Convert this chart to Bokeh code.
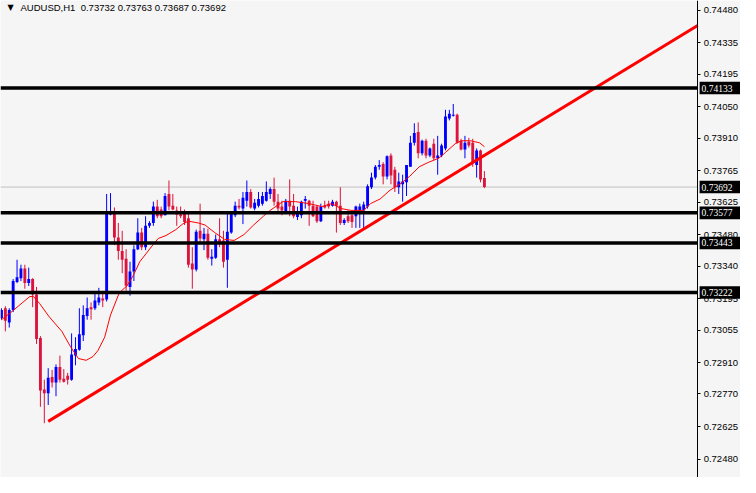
from bokeh.plotting import figure
from bokeh.models import (Range1d, Label, FixedTicker, NumeralTickFormatter, ColumnDataSource,
                          LinearAxis)
from bokeh.embed import file_html
from bokeh.resources import INLINE

symbol = "AUDUSD,H1"

opens = [0.73109, 0.73152, 0.73088, 0.73144, 0.73269, 0.73286, 0.73329, 0.73264, 0.73282, 0.73213,
         0.73019, 0.72790, 0.72773, 0.72846, 0.72821, 0.72890, 0.72838, 0.72851, 0.72834, 0.72941,
         0.72967, 0.73032, 0.73118, 0.73157, 0.73152, 0.73178, 0.73195, 0.73191, 0.73570, 0.73579,
         0.73467, 0.73407, 0.73372, 0.73247, 0.73316, 0.73415, 0.73489, 0.73424, 0.73519, 0.73532,
         0.73605, 0.73592, 0.73566, 0.73661, 0.73609, 0.73588, 0.73570, 0.73579, 0.73553, 0.73351,
         0.73325, 0.73497, 0.73459, 0.73484, 0.73372, 0.73377, 0.73459, 0.73454, 0.73368, 0.73489,
         0.73566, 0.73609, 0.73596, 0.73631, 0.73670, 0.73596, 0.73609, 0.73618, 0.73631, 0.73661,
         0.73683, 0.73627, 0.73605, 0.73583, 0.73631, 0.73609, 0.73558, 0.73566, 0.73631, 0.73631,
         0.73609, 0.73605, 0.73540, 0.73609, 0.73618, 0.73609, 0.73627, 0.73609, 0.73532, 0.73562,
         0.73566, 0.73562, 0.73588, 0.73588, 0.73605, 0.73691, 0.73734, 0.73782, 0.73795, 0.73739,
         0.73833, 0.73769, 0.73691, 0.73704, 0.73713, 0.73782, 0.73889, 0.73937, 0.73842, 0.73898,
         0.73833, 0.73885, 0.73820, 0.73833, 0.73864, 0.73997, 0.74010, 0.74014, 0.73898, 0.73859,
         0.73894, 0.73889, 0.73790, 0.73855, 0.73732]
highs = [0.73152, 0.73161, 0.73152, 0.73282, 0.73368, 0.73346, 0.73346, 0.73333, 0.73286, 0.73247,
         0.73028, 0.72834, 0.72885, 0.72877, 0.72902, 0.72941, 0.72881, 0.72864, 0.73040, 0.73023,
         0.73152, 0.73165, 0.73200, 0.73178, 0.73221, 0.73243, 0.73221, 0.73661, 0.73665, 0.73601,
         0.73532, 0.73497, 0.73415, 0.73359, 0.73433, 0.73553, 0.73510, 0.73562, 0.73540, 0.73627,
         0.73635, 0.73605, 0.73665, 0.73721, 0.73661, 0.73605, 0.73605, 0.73592, 0.73575, 0.73424,
         0.73502, 0.73618, 0.73510, 0.73506, 0.73415, 0.73480, 0.73553, 0.73497, 0.73575, 0.73583,
         0.73627, 0.73639, 0.73670, 0.73721, 0.73683, 0.73639, 0.73670, 0.73670, 0.73717, 0.73691,
         0.73734, 0.73661, 0.73631, 0.73639, 0.73726, 0.73661, 0.73605, 0.73631, 0.73652, 0.73635,
         0.73631, 0.73609, 0.73618, 0.73631, 0.73631, 0.73635, 0.73631, 0.73691, 0.73553, 0.73588,
         0.73588, 0.73609, 0.73618, 0.73627, 0.73704, 0.73756, 0.73790, 0.73812, 0.73803, 0.73833,
         0.73842, 0.73782, 0.73756, 0.73747, 0.73790, 0.73920, 0.73976, 0.73980, 0.73903, 0.73907,
         0.73868, 0.73907, 0.73920, 0.73885, 0.74036, 0.74036, 0.74062, 0.74019, 0.73907, 0.73920,
         0.73911, 0.73907, 0.73864, 0.73859, 0.73763]
lows = [0.73101, 0.73049, 0.73066, 0.73135, 0.73264, 0.73273, 0.73239, 0.73251, 0.73157, 0.72993,
        0.72713, 0.72640, 0.72721, 0.72799, 0.72760, 0.72821, 0.72821, 0.72812, 0.72829, 0.72898,
        0.72963, 0.73006, 0.73101, 0.73101, 0.73144, 0.73165, 0.73157, 0.73182, 0.73566, 0.73433,
        0.73368, 0.73308, 0.73230, 0.73208, 0.73273, 0.73411, 0.73411, 0.73411, 0.73510, 0.73519,
        0.73553, 0.73553, 0.73566, 0.73588, 0.73588, 0.73519, 0.73553, 0.73523, 0.73333, 0.73239,
        0.73316, 0.73446, 0.73411, 0.73368, 0.73342, 0.73372, 0.73424, 0.73333, 0.73243, 0.73484,
        0.73558, 0.73592, 0.73527, 0.73605, 0.73596, 0.73588, 0.73601, 0.73609, 0.73627, 0.73639,
        0.73609, 0.73583, 0.73566, 0.73575, 0.73562, 0.73553, 0.73545, 0.73553, 0.73596, 0.73519,
        0.73558, 0.73532, 0.73536, 0.73596, 0.73596, 0.73605, 0.73489, 0.73523, 0.73523, 0.73532,
        0.73510, 0.73510, 0.73510, 0.73510, 0.73596, 0.73683, 0.73726, 0.73769, 0.73704, 0.73726,
        0.73704, 0.73670, 0.73661, 0.73627, 0.73652, 0.73782, 0.73877, 0.73820, 0.73833, 0.73820,
        0.73825, 0.73812, 0.73747, 0.73825, 0.73855, 0.73989, 0.74006, 0.73885, 0.73855, 0.73820,
        0.73868, 0.73782, 0.73734, 0.73713, 0.73687]
closes = [0.73144, 0.73096, 0.73144, 0.73273, 0.73290, 0.73329, 0.73264, 0.73282, 0.73213, 0.73015,
          0.72786, 0.72773, 0.72842, 0.72821, 0.72890, 0.72834, 0.72825, 0.72834, 0.72946, 0.72971,
          0.73036, 0.73122, 0.73152, 0.73148, 0.73187, 0.73200, 0.73187, 0.73579, 0.73583, 0.73467,
          0.73407, 0.73368, 0.73252, 0.73316, 0.73415, 0.73489, 0.73424, 0.73519, 0.73532, 0.73605,
          0.73562, 0.73562, 0.73652, 0.73605, 0.73592, 0.73570, 0.73562, 0.73536, 0.73346, 0.73325,
          0.73493, 0.73463, 0.73484, 0.73377, 0.73381, 0.73459, 0.73441, 0.73359, 0.73493, 0.73575,
          0.73609, 0.73601, 0.73644, 0.73670, 0.73601, 0.73622, 0.73639, 0.73652, 0.73670, 0.73683,
          0.73627, 0.73596, 0.73588, 0.73631, 0.73605, 0.73562, 0.73583, 0.73627, 0.73639, 0.73609,
          0.73562, 0.73540, 0.73605, 0.73601, 0.73605, 0.73627, 0.73609, 0.73532, 0.73545, 0.73540,
          0.73536, 0.73605, 0.73605, 0.73614, 0.73695, 0.73734, 0.73782, 0.73790, 0.73739, 0.73829,
          0.73743, 0.73691, 0.73717, 0.73717, 0.73790, 0.73889, 0.73933, 0.73842, 0.73898, 0.73833,
          0.73864, 0.73820, 0.73833, 0.73877, 0.74006, 0.74019, 0.74014, 0.73889, 0.73859, 0.73889,
          0.73877, 0.73799, 0.73855, 0.73726, 0.73692]

# moving average: (bar position, value)
ma_idx = [0, 2.25, 7.25, 8.25, 9.75, 12.25, 15.5, 17.75, 19.75, 21.75, 23.5, 24.75, 26.5, 28, 30.25,
          32.25, 33.75, 35.5, 39, 40.25, 42.25, 44.75, 46.5, 48, 50.5, 52.25, 54.75, 57.25, 59.75,
          62.25, 64.75, 67.25, 69, 72.25, 75.5, 79, 82.25, 84.75, 87.25, 89.75, 93, 94.75, 97.25,
          99.75, 102.25, 104.75, 107.25, 109.75, 112.25, 114, 116.5, 118, 120.5, 122.75, 124]
ma_val = [0.73101, 0.73131, 0.73204, 0.73204, 0.73174, 0.73114, 0.73049, 0.72980, 0.72928, 0.72920,
          0.72937, 0.72963, 0.73023, 0.73122, 0.73221, 0.73252, 0.73295, 0.73359, 0.73437, 0.73463,
          0.73476, 0.73502, 0.73527, 0.73540, 0.73532, 0.73523, 0.73489, 0.73459, 0.73454, 0.73480,
          0.73523, 0.73562, 0.73588, 0.73627, 0.73627, 0.73618, 0.73605, 0.73618, 0.73596, 0.73588,
          0.73588, 0.73618, 0.73639, 0.73678, 0.73704, 0.73739, 0.73782, 0.73803, 0.73820, 0.73846,
          0.73885, 0.73898, 0.73898, 0.73889, 0.73872]

trend_idx = [12.0, 178.75]
trend_val = [0.72648, 0.74412]

level_prices = [0.74133, 0.73577, 0.73443, 0.73222]
bid_price = 0.73692
tick_values = [0.74480, 0.74335, 0.74195, 0.74050, 0.73910, 0.73765, 0.73625, 0.73480,
               0.73340, 0.73195, 0.73055, 0.72910, 0.72770, 0.72625, 0.72480]
header_values = ["0.73732", "0.73763", "0.73687", "0.73692"]

BLUE = "#0000FF"
RED = "#DC143C"
BG = "#F5F5F5"
FONT = "Liberation Sans"

X_START = -0.25      # left edge of the chart
X_AXIS = 178.75      # where the price scale sits
X_END = 189.75       # right edge of the price-scale area
Y_LOW, Y_HIGH = 0.72398, 0.74523
BOX_HALF = 0.00028   # half height of the price boxes on the scale
BOX_GAP = 0.5        # gap between the scale line and a price box

idx = list(range(len(opens)))
colors = [BLUE if c >= o else RED for o, c in zip(opens, closes)]
tops = [max(o, c) for o, c in zip(opens, closes)]
bots = [min(o, c) for o, c in zip(opens, closes)]
src = ColumnDataSource(dict(x=idx, high=highs, low=lows, top=tops, bottom=bots, color=colors))

p = figure(width=740, height=477, output_backend="svg", toolbar_location=None,
           x_range=Range1d(X_START, X_END), y_range=Range1d(Y_LOW, Y_HIGH),
           y_axis_location=None, x_axis_location=None,
           min_border_left=0, min_border_top=0, min_border_bottom=0, min_border_right=0)
p.grid.visible = False
p.outline_line_color = None
p.background_fill_color = BG
p.border_fill_color = BG

ax = LinearAxis(fixed_location=X_AXIS, ticker=FixedTicker(ticks=tick_values),
                formatter=NumeralTickFormatter(format="0.00000"))
ax.major_tick_in = 0
ax.major_tick_out = 3
ax.minor_tick_in = 0
ax.minor_tick_out = 0
ax.major_label_standoff = 3
ax.axis_line_color = "black"
ax.major_tick_line_color = "black"
ax.major_label_text_font = FONT
ax.major_label_text_font_size = "9.5px"
ax.major_label_text_color = "black"
p.add_layout(ax, "right")

# bid line
p.segment(x0=[X_START], x1=[X_AXIS], y0=[bid_price], y1=[bid_price], line_color="#C0C0C0", line_width=1)

# candles
p.segment(x0="x", y0="low", x1="x", y1="high", source=src, line_color="color", line_width=1)
p.vbar(x="x", top="top", bottom="bottom", width=0.74, source=src, fill_color="color", line_color=None)

# moving average and trend line
p.line(ma_idx, ma_val, line_color="#FF0000", line_width=1)
p.line(trend_idx, trend_val, line_color="#FF0000", line_width=3)

# horizontal levels
n = len(level_prices)
p.segment(x0=[X_START] * n, x1=[X_AXIS] * n, y0=level_prices, y1=level_prices,
          line_color="black", line_width=3.5)

# price boxes on the scale (drawn over the tick labels)
box_prices = level_prices + [bid_price]
m = len(box_prices)
p.quad(left=[X_AXIS + BOX_GAP] * m, right=[X_END] * m,
       bottom=[v - BOX_HALF for v in box_prices], top=[v + BOX_HALF for v in box_prices],
       fill_color="black", line_color=None, level="overlay")
p.text(x=[X_AXIS + BOX_GAP] * m, y=box_prices, text=[f"{v:.5f}" for v in box_prices],
       x_offset=2, text_color="white", text_font_size="9.5px", text_font=FONT,
       text_baseline="middle", level="overlay")

p.add_layout(Label(x=7, y=470, x_units="screen", y_units="screen", text="\u25bc",
                   text_font="DejaVu Sans", text_font_size="8px", text_baseline="middle",
                   text_color="black"))
p.add_layout(Label(x=20, y=470, x_units="screen", y_units="screen",
                   text=symbol + "\u00a0 " + " ".join(header_values),
                   text_font=FONT, text_font_size="9.5px", text_baseline="middle",
                   text_color="black"))

open("out.html", "w").write(file_html(p, INLINE))
